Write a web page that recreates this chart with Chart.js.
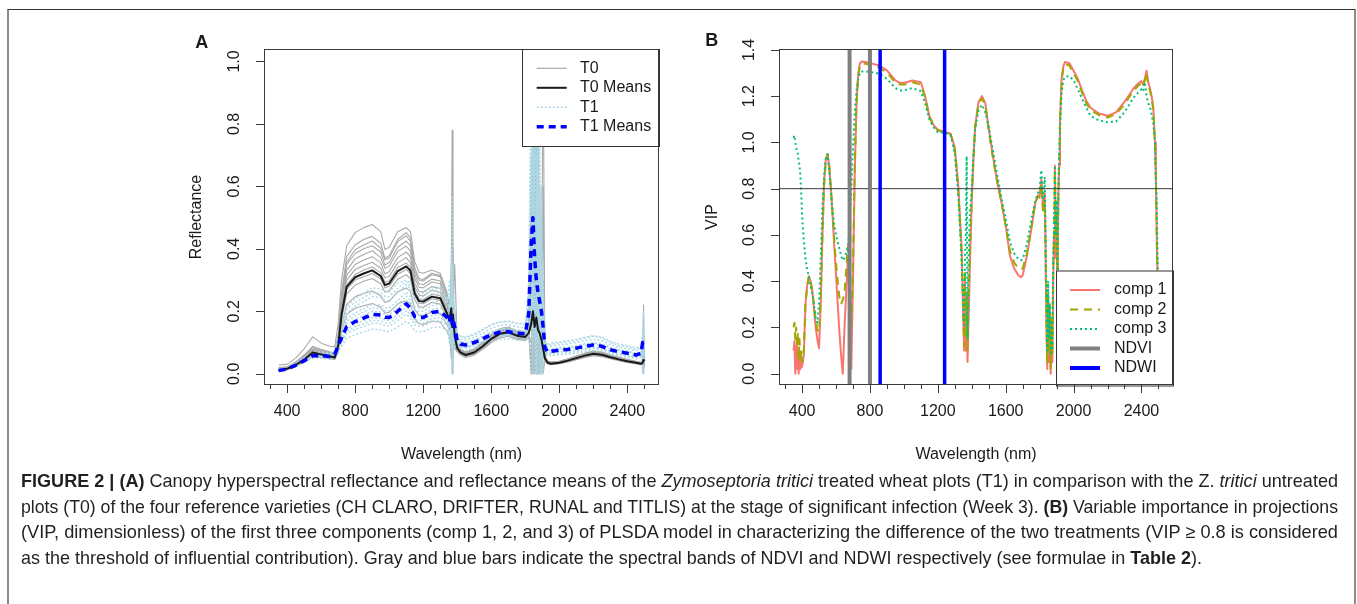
<!DOCTYPE html>
<html><head><meta charset="utf-8">
<script src="https://cdn.jsdelivr.net/npm/chart.js@4.4.1/dist/chart.umd.min.js"></script>
<style>
html,body{margin:0;padding:0;background:#fff;width:1357px;height:604px;overflow:hidden;}
#frame{position:absolute;left:7px;top:9px;width:1349px;height:700px;border-top:1px solid #333;border-left:2px solid #8c8c8c;border-right:2px solid #8c8c8c;box-sizing:border-box;}
canvas{position:absolute;left:0;top:0;}
.cap{position:absolute;left:21px;height:25px;line-height:25px;white-space:nowrap;font-family:"Liberation Sans Narrow","Arial Narrow","Liberation Sans",Arial,sans-serif;font-size:18.5px;color:#231f20;}
.cap span{display:inline-block;transform-origin:0 50%;white-space:nowrap;}
</style></head>
<body>
<div id="frame"></div>
<canvas id="cA" width="1357" height="604"></canvas>
<canvas id="cB" width="1357" height="604"></canvas>
<div class="cap" style="top:468px"><span><b>FIGURE 2 | (A)</b> Canopy hyperspectral reflectance and reflectance means of the <i>Zymoseptoria tritici</i> treated wheat plots (T1) in comparison with the Z. <i>tritici</i> untreated</span></div>
<div class="cap" style="top:493.5px"><span>plots (T0) of the four reference varieties (CH CLARO, DRIFTER, RUNAL and TITLIS) at the stage of significant infection (Week 3). <b>(B)</b> Variable importance in projections</span></div>
<div class="cap" style="top:519px"><span>(VIP, dimensionless) of the first three components (comp 1, 2, and 3) of PLSDA model in characterizing the difference of the two treatments (VIP ≥ 0.8 is considered</span></div>
<div class="cap" style="top:544.5px"><span>as the threshold of influential contribution). Gray and blue bars indicate the spectral bands of NDVI and NDWI respectively (see formulae in <b>Table 2</b>).</span></div>
<script>
// ---------- Panel A data ----------
const wl = [350,400,450,500,550,600,650,680,700,720,
 750,800,850,900,950,975,1000,1050,1100,1125,
 1150,1175,1200,1250,1300,1340,1355,1365,1370,1375,
 1385,1400,1420,1450,1500,1550,1600,1650,1700,1750,
 1800,1820,1835,1845,1855,1865,1875,1885,1895,1905,
 1915,1930,1950,2000,2050,2100,2150,2200,2250,2300,
 2350,2400,2450,2480,2490,2495,2500];

const t0Mean = [.012,.016,.028,.045,.068,.062,.056,.052,.09,.19,
 .278,.309,.321,.331,.313,.284,.289,.329,.344,.33,
 .257,.233,.231,.247,.242,.193,.17,.21,.15,.19,
 .12,.082,.068,.06,.068,.088,.112,.128,.133,.122,
 .118,.13,.16,.2,.15,.18,.14,.13,.11,.08,
 .05,.036,.032,.035,.042,.05,.058,.064,.061,.053,
 .046,.04,.035,.032,.035,.045,.04];

const t1Mean = [.01,.015,.027,.042,.058,.058,.055,.062,.09,.115,
 .151,.167,.178,.19,.188,.181,.18,.2,.224,.21,
 .183,.18,.18,.196,.2,.18,.165,.19,.16,.175,
 .15,.105,.095,.092,.1,.112,.125,.133,.135,.13,
 .128,.19,.42,.5,.37,.3,.26,.23,.2,.15,
 .085,.07,.072,.076,.078,.082,.088,.092,.088,.077,
 .07,.066,.06,.065,.1,.095,.1];

const t0_1 = [.028,.03,.05,.08,.118,.098,.088,.086,.16,.30,
 .41,.452,.468,.478,.455,.398,.405,.455,.468,.455,
 .36,.325,.322,.332,.322,.26,.2,.25,.78,.1,
 .13,.09,.078,.07,.08,.1,.127,.145,.15,.138,
 .133,.14,.0,1.1,.05,.9,.0,.3,.2,1.05,
 .06,.042,.038,.04,.048,.057,.066,.073,.07,.061,
 .053,.046,.04,.037,.05,.22,.03];
const t0_2 = [.02,.022,.038,.06,.088,.078,.07,.066,.125,.26,
 .375,.413,.43,.44,.418,.37,.378,.43,.452,.435,
 .34,.305,.302,.322,.315,.25,.22,.12,.3,.2,
 .35,.1,.075,.067,.077,.097,.122,.14,.146,.134,
 .13,.15,.45,.0,1.1,.1,.6,.0,.4,.08,
 .056,.04,.036,.039,.046,.055,.063,.07,.067,.058,
 .051,.044,.039,.036,.04,.06,.035];
const t0_3 = [.016,.02,.034,.054,.08,.072,.065,.061,.112,.24,
 .35,.385,.4,.41,.39,.348,.356,.405,.425,.41,
 .318,.288,.285,.303,.297,.235,.15,.35,.0,.25,
 .14,.095,.073,.065,.074,.094,.119,.136,.142,.13,
 .126,.14,.0,.7,.2,.0,.5,.15,.0,.3,
 .054,.039,.035,.038,.045,.053,.061,.068,.065,.057,
 .05,.043,.038,.035,.03,.0,.04];
const t0_4 = [.014,.018,.031,.05,.075,.068,.061,.057,.102,.215,
 .315,.35,.364,.375,.355,.32,.327,.372,.39,.374,
 .29,.264,.262,.279,.273,.22,.19,.26,.12,.3,
 .12,.088,.07,.062,.071,.091,.116,.132,.138,.126,
 .122,.135,.3,.15,.5,.2,.0,.45,.1,.12,
 .052,.038,.034,.037,.044,.052,.06,.066,.063,.055,
 .048,.042,.037,.034,.04,.08,.038];
const t0_5 = [.012,.016,.028,.045,.068,.062,.056,.052,.092,.195,
 .285,.318,.332,.342,.323,.293,.298,.34,.355,.34,
 .265,.24,.238,.255,.25,.2,.16,.2,.17,.14,
 .1,.082,.068,.06,.068,.088,.112,.128,.133,.122,
 .118,.13,.15,.35,.0,.4,.25,.0,.25,.05,
 .05,.036,.032,.035,.042,.05,.058,.064,.061,.053,
 .046,.04,.035,.032,.033,.04,.035];
const t0_6 = [.011,.015,.026,.042,.062,.057,.052,.049,.084,.175,
 .255,.284,.296,.305,.288,.262,.266,.303,.317,.304,
 .237,.215,.213,.228,.223,.18,.2,.1,.22,.16,
 .09,.078,.066,.058,.066,.085,.108,.124,.129,.118,
 .114,.125,.6,.25,.15,.0,.3,.2,.0,.15,
 .048,.035,.031,.034,.04,.048,.056,.062,.059,.051,
 .045,.039,.034,.031,.03,.02,.03];
const t0_7 = [.01,.014,.024,.039,.058,.054,.05,.047,.075,.155,
 .222,.247,.257,.265,.25,.228,.232,.263,.275,.264,
 .206,.187,.185,.198,.194,.158,.14,.18,.1,.2,
 .09,.074,.063,.055,.063,.082,.104,.12,.124,.114,
 .11,.12,.1,.2,.35,.1,.15,.3,.05,.1,
 .046,.033,.03,.033,.039,.046,.054,.06,.057,.05,
 .043,.037,.033,.03,.035,.05,.033];
const t0_8 = [.01,.013,.023,.037,.055,.052,.048,.046,.068,.135,
 .19,.21,.218,.225,.213,.194,.197,.224,.234,.224,
 .176,.16,.158,.169,.165,.136,.12,.05,.16,.12,
 .08,.07,.06,.052,.06,.078,.1,.115,.12,.11,
 .106,.115,.2,.0,.1,.25,.05,.12,.18,.0,
 .044,.032,.029,.032,.038,.045,.052,.058,.055,.048,
 .042,.036,.032,.029,.03,.035,.032];
const t0_9 = [.018,.021,.036,.057,.084,.075,.067,.063,.118,.25,
 .357,.397,.412,.425,.402,.365,.371,.423,.442,.424,
 .33,.3,.297,.317,.311,.248,.21,.15,.4,.05,
 .2,.1,.075,.066,.075,.097,.123,.141,.146,.134,
 .13,.145,.2,.9,.0,.3,.8,.1,.0,.6,
 .056,.04,.036,.039,.047,.056,.065,.072,.068,.059,
 .052,.045,.039,.036,.04,.1,.036];
const t0_10 = [.015,.019,.032,.052,.077,.07,.063,.059,.108,.228,
 .331,.368,.382,.394,.372,.338,.344,.392,.409,.393,
 .306,.277,.275,.294,.288,.23,.18,.3,.1,.22,
 .15,.09,.073,.064,.073,.094,.12,.137,.142,.131,
 .126,.14,.5,.1,.35,.0,.7,.2,.3,.05,
 .054,.039,.035,.038,.045,.054,.063,.069,.066,.057,
 .05,.043,.038,.035,.03,.06,.037];
const t0_11 = [.013,.017,.03,.047,.071,.065,.058,.054,.098,.205,
 .3,.334,.347,.357,.338,.307,.312,.355,.372,.356,
 .278,.252,.249,.267,.261,.208,.17,.22,.14,.26,
 .11,.085,.07,.062,.07,.091,.115,.132,.137,.126,
 .122,.133,.25,.4,.15,.0,.35,.6,.2,.1,
 .051,.037,.033,.036,.043,.052,.06,.066,.063,.055,
 .047,.041,.036,.033,.036,.05,.036];
const t0_12 = [.011,.015,.027,.043,.064,.059,.054,.05,.087,.184,
 .27,.3,.311,.321,.304,.275,.28,.319,.334,.32,
 .249,.226,.224,.24,.235,.187,.15,.19,.08,.17,
 .13,.08,.067,.059,.067,.086,.11,.125,.13,.12,
 .116,.127,.35,.05,.2,.45,.0,.15,.25,.07,
 .049,.035,.031,.034,.041,.049,.057,.063,.06,.052,
 .045,.039,.034,.031,.032,.03,.033];

const t1_1 = [.014,.02,.034,.052,.07,.07,.066,.075,.115,.16,
 .215,.24,.258,.275,.272,.262,.262,.29,.3,.29,
 .262,.258,.258,.275,.28,.24,.2,.3,.57,.0,
 .2,.13,.12,.118,.128,.142,.157,.165,.167,.16,
 .158,.25,1.1,.2,.9,1.1,.0,.6,.3,.25,
 .11,.095,.098,.102,.106,.11,.117,.122,.118,.104,
 .095,.09,.083,.088,.13,.2,.12];
const t1_2 = [.012,.018,.031,.048,.066,.066,.062,.07,.105,.145,
 .195,.216,.231,.247,.244,.235,.234,.26,.285,.272,
 .237,.233,.233,.253,.258,.225,.3,.1,.25,.35,
 .15,.12,.11,.108,.117,.13,.145,.155,.157,.15,
 .148,.2,.5,1.1,.3,.0,1.0,.4,.5,.0,
 .1,.085,.088,.092,.095,.1,.106,.11,.106,.093,
 .085,.08,.074,.078,.12,.05,.11];
const t1_3 = [.011,.016,.029,.045,.062,.062,.059,.066,.097,.133,
 .176,.195,.208,.222,.22,.212,.211,.234,.262,.246,
 .214,.21,.21,.229,.233,.208,.1,.4,.15,.25,
 .18,.115,.103,.1,.108,.121,.135,.144,.146,.14,
 .138,.15,.2,.6,1.1,.4,.2,.0,.35,.2,
 .092,.077,.08,.084,.086,.09,.097,.1,.097,.085,
 .077,.073,.066,.072,.0,.15,.1];
const t1_4 = [.01,.015,.027,.042,.058,.058,.055,.062,.089,.12,
 .158,.175,.187,.2,.197,.19,.189,.21,.235,.22,
 .192,.189,.189,.206,.21,.19,.22,.12,.3,.1,
 .2,.11,.097,.094,.102,.114,.127,.135,.137,.132,
 .13,.3,.8,.3,.5,.7,.3,.5,.2,.1,
 .087,.072,.074,.078,.08,.084,.09,.094,.09,.079,
 .072,.068,.062,.066,.11,.08,.1];
const t1_5 = [.009,.014,.025,.04,.055,.055,.052,.058,.08,.108,
 .143,.158,.169,.18,.178,.172,.171,.19,.213,.2,
 .174,.171,.171,.186,.19,.172,.15,.25,.0,.2,
 .12,.1,.088,.085,.093,.104,.116,.124,.126,.121,
 .119,.16,.35,.9,.0,.3,.6,.15,.25,.08,
 .078,.064,.066,.07,.072,.075,.081,.085,.081,.071,
 .064,.06,.055,.06,.09,.1,.09];
const t1_6 = [.009,.013,.024,.038,.052,.052,.049,.055,.075,.098,
 .128,.142,.151,.162,.16,.154,.153,.17,.19,.179,
 .156,.153,.153,.167,.17,.155,.18,.08,.2,.13,
 .1,.095,.085,.082,.09,.1,.112,.12,.122,.117,
 .115,.14,.0,.45,.7,.1,.4,.8,.1,.05,
 .074,.061,.063,.066,.068,.071,.077,.08,.077,.067,
 .061,.057,.052,.057,.08,.12,.085];
const t1_7 = [.008,.012,.023,.036,.05,.05,.047,.052,.068,.088,
 .113,.125,.134,.143,.141,.136,.135,.15,.168,.158,
 .137,.135,.135,.147,.15,.14,.1,.16,.06,.12,
 .09,.085,.078,.075,.082,.092,.103,.11,.112,.108,
 .106,.12,.25,.1,.3,.55,.1,.3,.0,.12,
 .068,.056,.058,.061,.063,.066,.071,.074,.071,.062,
 .056,.053,.048,.052,.07,.0,.08];
const t1_8 = [.013,.019,.033,.05,.068,.068,.064,.072,.11,.152,
 .207,.229,.244,.26,.258,.248,.247,.274,.295,.28,
 .25,.247,.247,.268,.274,.235,.25,.15,.35,.2,
 .1,.125,.119,.115,.125,.14,.156,.166,.169,.163,
 .16,.22,.7,.0,1.1,.5,.8,.2,.0,.3,
 .11,.091,.094,.099,.101,.107,.114,.12,.114,.1,
 .091,.086,.078,.084,.1,.14,.11];
const t1_9 = [.011,.016,.028,.044,.06,.06,.057,.064,.094,.127,
 .168,.185,.198,.211,.209,.201,.2,.222,.249,.233,
 .203,.2,.2,.218,.222,.2,.12,.3,.2,.05,
 .15,.11,.101,.098,.106,.119,.133,.141,.143,.138,
 .136,.2,.4,.2,.8,.9,.1,.35,.6,.15,
 .092,.076,.078,.082,.084,.089,.095,.099,.095,.083,
 .076,.071,.065,.07,.09,.06,.095];
const t1_10 = [.009,.013,.025,.039,.053,.053,.05,.056,.077,.103,
 .136,.15,.16,.171,.169,.163,.162,.18,.202,.189,
 .165,.162,.162,.176,.18,.162,.2,.13,.25,.1,
 .14,.1,.087,.085,.092,.103,.115,.122,.124,.12,
 .118,.15,.2,.6,.15,.0,.5,.3,.4,.1,
 .078,.064,.066,.07,.072,.075,.081,.085,.081,.071,
 .064,.061,.055,.06,.07,.11,.085];

// ---------- Panel B data ----------
const wlB = [350,355,360,365,370,375,380,385,390,395,
 400,410,420,430,440,450,460,470,480,490,
 500,510,520,530,540,550,560,570,580,590,
 600,610,620,630,640,650,660,670,680,690,
 700,710,720,730,740,750,775,800,850,900,
 950,975,1000,1050,1100,1125,1150,1175,1200,1250,
 1275,1300,1320,1340,1350,1355,1360,1365,1370,1375,
 1380,1385,1390,1400,1410,1420,1440,1460,1480,1500,
 1525,1550,1575,1600,1625,1650,1675,1690,1700,1725,
 1750,1775,1790,1800,1810,1820,1830,1835,1840,1845,
 1850,1855,1860,1865,1870,1875,1880,1885,1890,1895,
 1900,1905,1910,1915,1920,1930,1940,1950,1975,2000,
 2025,2050,2075,2100,2150,2200,2250,2300,2350,2380,
 2400,2410,2420,2430,2440,2450,2460,2470,2480,2485,
 2490,2495,2500];

const comp1 = [.10,.14,.0,.12,.02,.08,.0,.1,.02,.06,
 .03,.08,.3,.38,.42,.40,.36,.28,.2,.15,
 .11,.3,.6,.83,.93,.95,.9,.8,.68,.55,
 .43,.3,.18,.08,.0,.2,.35,.5,.45,.02,
 .4,.85,1.15,1.29,1.34,1.35,1.348,1.343,1.334,1.312,
 1.268,1.258,1.257,1.268,1.26,1.2,1.115,1.075,1.055,1.044,
 1.038,.98,.82,.55,.25,.1,.4,.1,.3,.05,
 .2,.35,.5,.75,.93,1.07,1.175,1.2,1.17,1.06,
 .94,.83,.74,.64,.51,.455,.425,.417,.425,.51,
 .62,.74,.77,.76,.84,.72,.78,.55,.2,.02,
 .3,.05,.25,.0,.2,.05,.4,.6,.9,.5,
 .7,.3,.75,.9,1.1,1.28,1.33,1.348,1.343,1.31,
 1.275,1.225,1.18,1.15,1.125,1.115,1.13,1.175,1.23,1.255,
 1.265,1.25,1.275,1.31,1.26,1.235,1.2,1.15,1.0,.85,
 .6,.4,.3];

const comp2 = [.2,.22,.15,.2,.12,.18,.06,.15,.05,.1,
 .05,.1,.3,.38,.42,.4,.36,.3,.23,.19,
 .18,.32,.6,.82,.92,.945,.9,.8,.69,.57,
 .48,.4,.33,.3,.32,.35,.45,.55,.4,.2,
 .45,.88,1.15,1.28,1.33,1.34,1.34,1.335,1.325,1.303,
 1.258,1.25,1.25,1.26,1.25,1.195,1.11,1.072,1.052,1.04,
 1.035,.97,.8,.52,.25,.12,.45,.15,.35,.1,
 .3,.4,.52,.76,.93,1.065,1.17,1.19,1.16,1.05,
 .93,.83,.74,.64,.53,.48,.455,.45,.455,.52,
 .63,.74,.77,.76,.82,.7,.75,.5,.25,.05,
 .35,.1,.3,.02,.25,.08,.45,.6,.88,.55,
 .7,.35,.75,.9,1.1,1.27,1.32,1.338,1.333,1.3,
 1.265,1.215,1.17,1.14,1.118,1.108,1.122,1.165,1.22,1.245,
 1.255,1.24,1.27,1.3,1.25,1.225,1.19,1.14,.99,.84,
 .6,.4,.3];

const comp3 = [1.02,1.03,1.0,.98,.96,.95,.92,.9,.86,.78,
 .69,.58,.5,.45,.42,.38,.35,.3,.24,.22,
 .3,.5,.72,.86,.93,.95,.88,.78,.7,.64,
 .6,.57,.54,.51,.49,.5,.52,.55,.62,.8,
 .98,1.12,1.22,1.27,1.3,1.307,1.307,1.305,1.298,1.275,
 1.235,1.225,1.225,1.235,1.222,1.17,1.1,1.065,1.045,1.04,
 1.035,.95,.78,.5,.3,.2,.5,.6,.94,.15,
 .45,.6,.7,.8,.95,1.06,1.14,1.163,1.13,1.07,
 .96,.86,.76,.67,.57,.52,.495,.49,.495,.56,
 .66,.75,.78,.8,.88,.75,.85,.6,.3,.1,
 .4,.15,.3,.08,.22,.1,.5,.65,.9,.6,
 .75,.4,.8,.95,1.05,1.22,1.27,1.285,1.286,1.27,
 1.23,1.19,1.15,1.115,1.095,1.087,1.09,1.13,1.19,1.215,
 1.23,1.22,1.26,1.2,1.17,1.156,1.12,1.08,1.0,.85,
 .75,.5,.35];

const ndviBands = [680, 800];
const ndwiBands = [860, 1240];
const vipThreshold = 0.8;

// ---------- axes ----------
const xMajorTicks = [400,800,1200,1600,2000,2400];
const xMinorTicks = [300,500,600,700,900,1000,1100,1300,1400,1500,1700,1800,1900,2100,2200,2300,2500];
const yTicksA = [0,0.2,0.4,0.6,0.8,1.0];
const yTicksB = [0,0.2,0.4,0.6,0.8,1.0,1.2,1.4];
const xRange = [264, 2586];

// ---------- helpers ----------
const FONT = '"Liberation Sans", Arial, Helvetica, sans-serif';
function pts(xs, ys){ return xs.map((x,i)=>({x:x, y:ys[i]})); }
function line(data, color, width, dash, order){
  return {data:data, borderColor:color, borderWidth:width, borderDash:dash||[], order:order,
    pointRadius:0, pointHoverRadius:0, fill:false, tension:0, borderCapStyle:'butt', borderJoinStyle:'round'};
}

function decor(p){
  return {
    id:'decor'+p.name,
    afterDatasetsDraw(chart){
      const ctx=chart.ctx, a=chart.chartArea, xs=chart.scales.x, ys=chart.scales.y;
      ctx.save();
      const L=p.legend;
      ctx.setLineDash([]);
      ctx.fillStyle='#fff'; ctx.fillRect(L.x, L.y, L.w, L.h);
      ctx.strokeStyle='#333'; ctx.lineWidth=1;
      ctx.strokeRect(L.x+0.5, L.y+0.5, L.w, L.h);
      ctx.font='16px '+FONT; ctx.textBaseline='middle'; ctx.textAlign='left';
      L.items.forEach((it,i)=>{
        const yy=L.y0+i*L.dy;
        ctx.beginPath(); ctx.setLineDash(it.dash||[]); ctx.lineWidth=it.w; ctx.strokeStyle=it.c; ctx.lineCap='butt';
        ctx.moveTo(L.lx0,yy); ctx.lineTo(L.lx1,yy); ctx.stroke();
        ctx.setLineDash([]); ctx.fillStyle='#1a1a1a'; ctx.fillText(it.t, L.tx, yy);
      });
      ctx.setLineDash([]); ctx.strokeStyle='#3a3a3a'; ctx.lineWidth=1;
      ctx.strokeRect(a.left+0.5, a.top+0.5, a.right-a.left-1, a.bottom-a.top-1);
      ctx.beginPath();
      xMajorTicks.forEach(v=>{const px=Math.round(xs.getPixelForValue(v))+0.5; ctx.moveTo(px,a.bottom); ctx.lineTo(px,a.bottom+8);});
      xMinorTicks.forEach(v=>{const px=Math.round(xs.getPixelForValue(v))+0.5; ctx.moveTo(px,a.bottom); ctx.lineTo(px,a.bottom+4);});
      p.yTicks.forEach(v=>{const py=Math.round(ys.getPixelForValue(v))+0.5; ctx.moveTo(a.left,py); ctx.lineTo(a.left-8,py);});
      ctx.stroke();
      ctx.fillStyle='#1a1a1a'; ctx.font='16px '+FONT; ctx.textAlign='center'; ctx.textBaseline='middle';
      xMajorTicks.forEach(v=>{ctx.fillText(String(v), xs.getPixelForValue(v), a.bottom+27);});
      p.yTicks.forEach(v=>{
        ctx.save(); ctx.translate(a.left-29, ys.getPixelForValue(v)); ctx.rotate(-Math.PI/2);
        ctx.fillText(v.toFixed(1),0,0); ctx.restore();
      });
      ctx.fillText('Wavelength (nm)', (a.left+a.right)/2, a.bottom+70);
      ctx.save(); ctx.translate(a.left-p.yTitleOff, (a.top+a.bottom)/2); ctx.rotate(-Math.PI/2);
      ctx.fillText(p.yTitle,0,0); ctx.restore();
      ctx.font='bold 18px '+FONT;
      ctx.fillText(p.name, p.letter[0], p.letter[1]);
      ctx.restore();
    }
  };
}

function baseOptions(pad, ymin, ymax){
  return {
    responsive:false, animation:false, devicePixelRatio:1,
    layout:{padding:pad},
    plugins:{legend:{display:false}, tooltip:{enabled:false}},
    events:[],
    scales:{
      x:{type:'linear', min:xRange[0], max:xRange[1], display:false},
      y:{type:'linear', min:ymin, max:ymax, display:false}
    }
  };
}

// ---------- Chart A ----------
const gray='#a9a9a9', lb='#add8e6';
const dsA=[];
dsA.push(line(pts(wl,t1Mean),'#0000ff',3.5,[7,5],0));
dsA.push(line(pts(wl,t0Mean),'#1a1a1a',2,[],1));
[t1_1,t1_2,t1_3,t1_4,t1_5,t1_6,t1_7,t1_8,t1_9,t1_10].forEach(c=>dsA.push(line(pts(wl,c),lb,1.4,[2,2],2)));
[t0_1,t0_2,t0_3,t0_4,t0_5,t0_6,t0_7,t0_8,t0_9,t0_10,t0_11,t0_12].forEach(c=>dsA.push(line(pts(wl,c),gray,1.1,[],3)));

new Chart(document.getElementById('cA'),{
  type:'line', data:{datasets:dsA},
  options:baseOptions({left:264, top:49, right:1357-659, bottom:604-385}, -0.036, 1.04),
  plugins:[decor({name:'A', yTicks:yTicksA, yTitle:'Reflectance', yTitleOff:67, letter:[201.7,42.7],
    legend:{x:522, y:49, w:137, h:97, y0:68.3, dy:19.5, lx0:536.7, lx1:566.7, tx:580,
      items:[{t:'T0',c:gray,w:1.2},{t:'T0 Means',c:'#1a1a1a',w:2},{t:'T1',c:lb,w:1.5,dash:[2,2]},{t:'T1 Means',c:'#0000ff',w:3.5,dash:[7,5]}]}})]
});

// ---------- Chart B ----------
const dsB=[];
ndwiBands.forEach(b=>dsB.push(line([{x:b,y:-1},{x:b,y:2}],'#0000ff',3.5,[],0)));
ndviBands.forEach(b=>dsB.push(line([{x:b,y:-1},{x:b,y:2}],'#808080',4,[],0)));
dsB.push(line([{x:xRange[0],y:vipThreshold},{x:xRange[1],y:vipThreshold}],'#3a3a3a',1,[],1));
dsB.push(line(pts(wlB,comp3),'#00BF7D',2,[2,3],2));
dsB.push(line(pts(wlB,comp2),'#A3A500',2,[8,6],3));
dsB.push(line(pts(wlB,comp1),'#F8766D',2,[],4));

new Chart(document.getElementById('cB'),{
  type:'line', data:{datasets:dsB},
  options:baseOptions({left:779, top:49, right:1357-1173, bottom:604-385}, -0.049, 1.404),
  plugins:[decor({name:'B', yTicks:yTicksB, yTitle:'VIP', yTitleOff:66, letter:[711.7,41.5],
    legend:{x:1056, y:270.5, w:117, h:115, y0:290, dy:19.5, lx0:1070, lx1:1100, tx:1114,
      items:[{t:'comp 1',c:'#F8766D',w:2},{t:'comp 2',c:'#A3A500',w:2,dash:[8,6]},{t:'comp 3',c:'#00BF7D',w:2,dash:[2,3]},{t:'NDVI',c:'#808080',w:4},{t:'NDWI',c:'#0000ff',w:4}]}})]
});

// ---------- caption fit ----------
(function(){
  const target=1317;
  const spans=[...document.querySelectorAll('.cap span')];
  const scales=[];
  spans.forEach((sp,i)=>{
    const w=sp.getBoundingClientRect().width;
    if(i<3){
      if(w>target){const s=target/w; sp.style.transform='scaleX('+s+')'; scales.push(s);}
      else{const n=(sp.textContent.match(/ /g)||[]).length; sp.style.wordSpacing=((target-w)/n)+'px'; scales.push(1);}
    }else{
      const s=scales.reduce((a,b)=>a+b,0)/scales.length;
      if(s<1) sp.style.transform='scaleX('+s+')';
    }
  });
})();
</script>
</body></html>
